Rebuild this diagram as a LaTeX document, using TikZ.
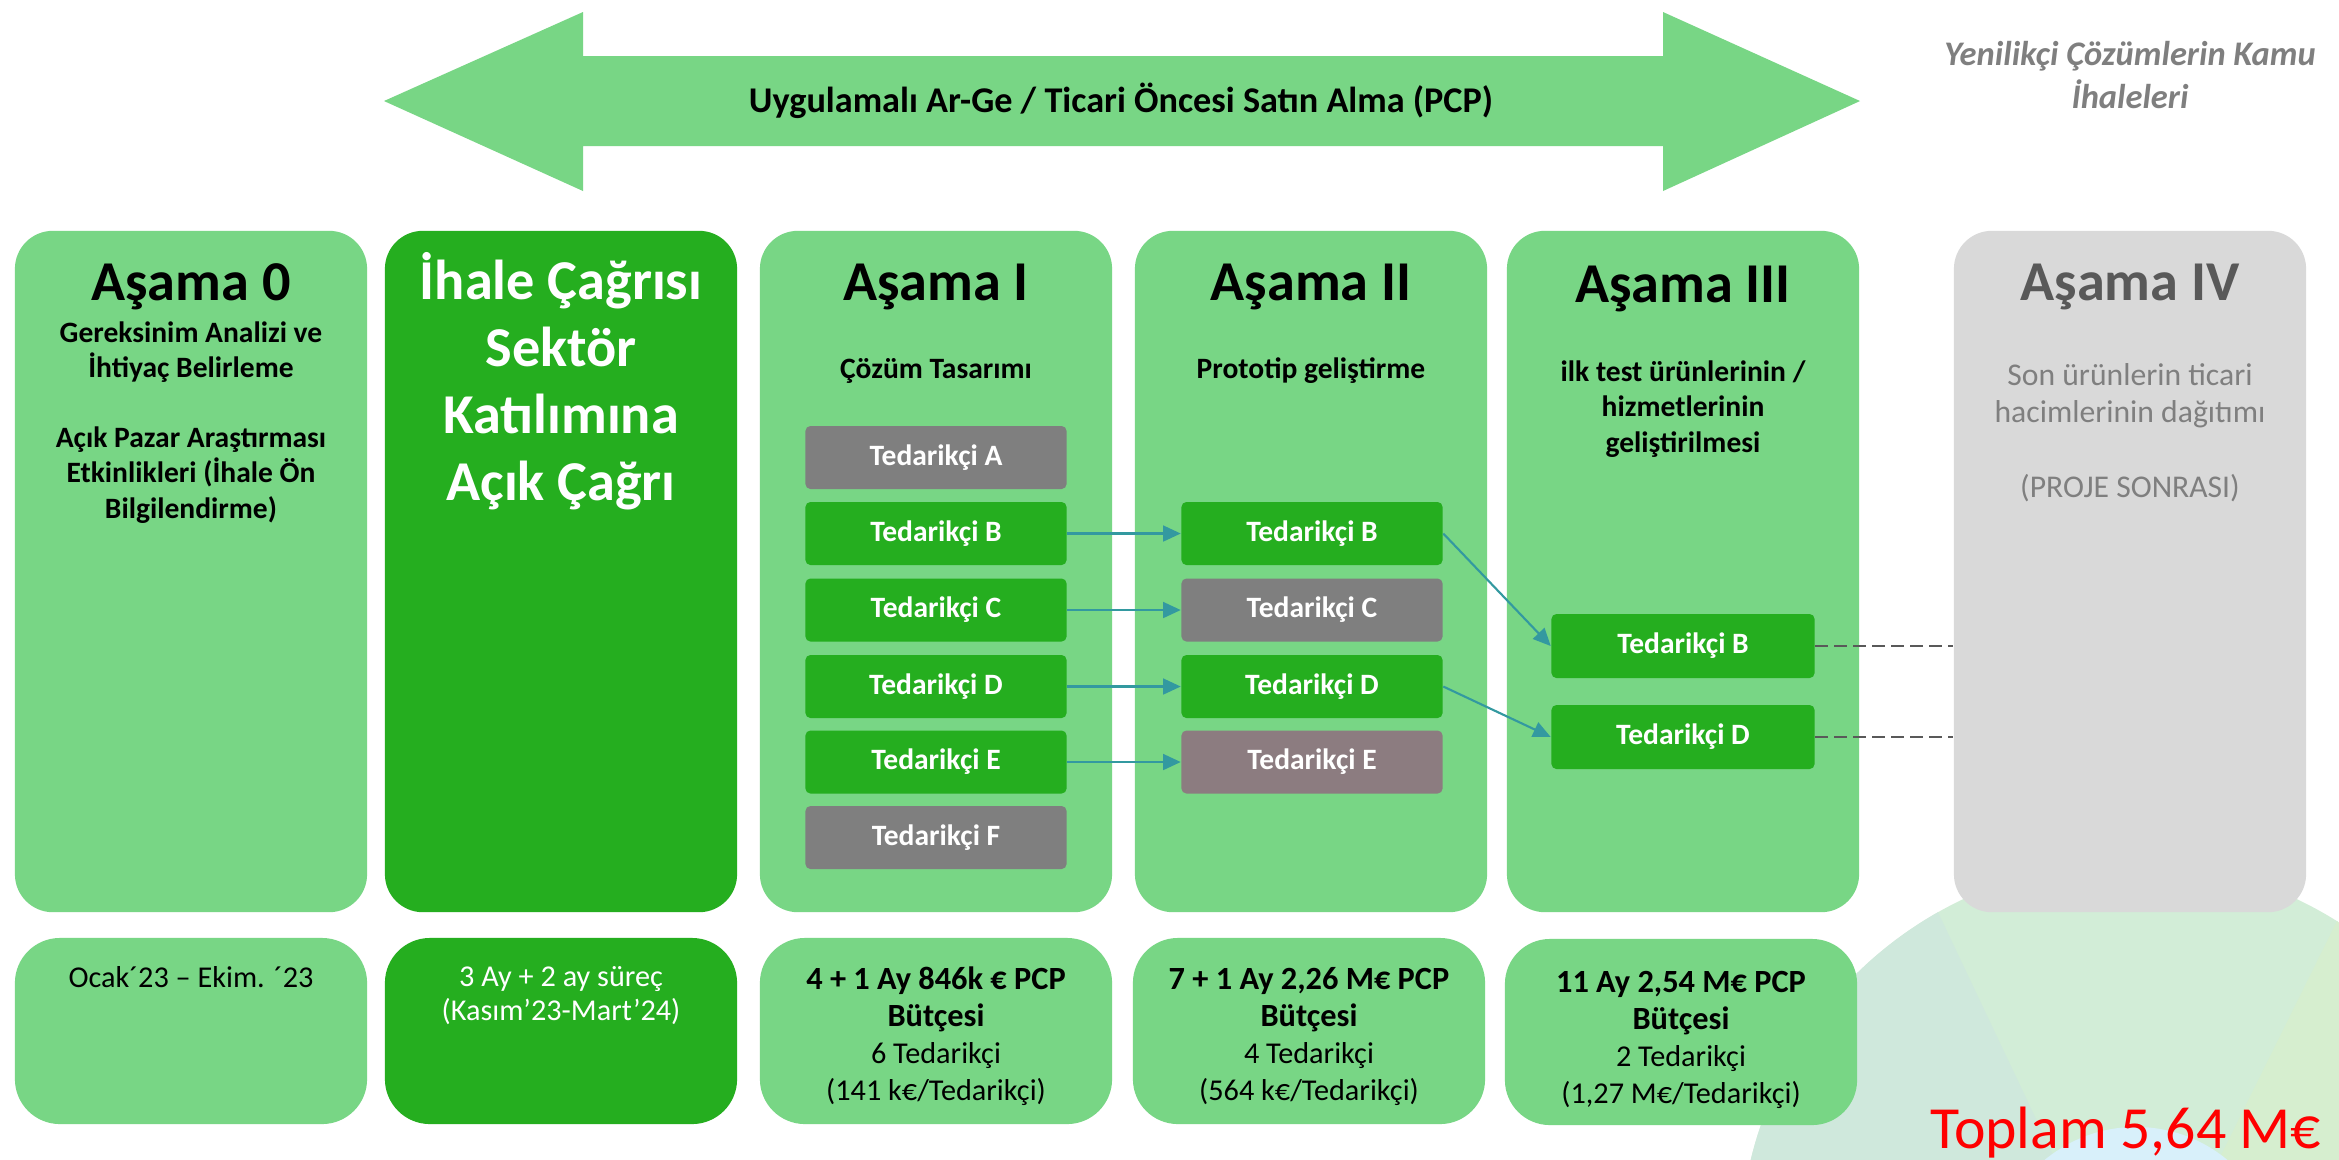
\documentclass[tikz,border=0pt]{standalone}
\usepackage{fontspec}
\setmainfont{Carlito}
\usetikzlibrary{arrows.meta}
\definecolor{lgreen}{HTML}{78D685}
\definecolor{dgreen}{HTML}{25AE1F}
\definecolor{boxgray}{HTML}{7F7F7F}
\definecolor{mauve}{HTML}{8C7C80}
\definecolor{colgray}{HTML}{D9D9D9}
\definecolor{arrteal}{HTML}{3399A0}
\definecolor{txtgray}{HTML}{595959}
\definecolor{subgray}{HTML}{7F7F7F}
\definecolor{wedgeL}{HTML}{CFE8DC}
\definecolor{wedgeM}{HTML}{D2EDD7}
\definecolor{wedgeR}{HTML}{D6EECF}
\definecolor{hubblue}{HTML}{D8F0FA}
\newcommand\fbody{\fontsize{8.4}{10}\selectfont}
\newcommand\fbot{\fontsize{8.6}{10.5}\selectfont}
\newcommand\fbotb{\fontsize{9.2}{10.5}\selectfont\bfseries}
\newcommand\ftitle{\fontsize{16}{19}\selectfont}
\tikzset{
 colbox/.style={fill=lgreen, rounded corners=0.38cm, minimum width=3.52cm, minimum height=6.81cm, inner sep=0pt},
 botbox/.style={fill=lgreen, rounded corners=0.45cm, minimum width=3.52cm, minimum height=1.86cm, inner sep=0pt},
 supp/.style={fill=dgreen, rounded corners=0.05cm, minimum width=2.61cm, minimum height=0.63cm, inner sep=0pt, text=white, font=\fbody\bfseries},
 suppoff/.style={supp, fill=boxgray},
 phtitle/.style={anchor=base, font=\ftitle\bfseries, align=center, inner sep=0pt},
 phsub/.style={anchor=base, font=\fbody\bfseries, align=center, inner sep=0pt},
 botx/.style={anchor=base, font=\fbot, align=center, inner sep=0pt},
 flow/.style={draw=arrteal, line width=0.6pt, -{Triangle[length=5pt,width=4.5pt]}},
 dashln/.style={draw=txtgray, line width=0.6pt, dash pattern=on 3.6pt off 1.8pt},
}
\begin{document}
% multi-line nodes are placed by the baseline of their LAST line
\begin{tikzpicture}[x=0.01cm,y=-0.01cm]
\useasboundingbox (0,0) rectangle (2339,1159);
\fill[white] (0,0) rectangle (2339,1159);
% background decoration
\begin{scope}
\clip (0,0) rectangle (2339,1159);
\clip (2130,1252) circle[radius=3.9cm];
\fill[wedgeM] (1600,700) rectangle (2600,1400);
\fill[wedgeL] (1835,695) -- (2165,1391) -- (1600,1391) -- (1600,695) -- cycle;
\fill[wedgeR] (2448,697) -- (2121,1357) -- (2600,1357) -- (2600,697) -- cycle;
\fill[hubblue] (2136,1270) circle[radius=1.43cm];
\end{scope}
% top arrow
\fill[lgreen] (384,101) -- (583,12) -- (583,56) -- (1663,56) -- (1663,12) -- (1860,101)
  -- (1663,191) -- (1663,146) -- (583,146) -- (583,191) -- cycle;
\node[anchor=base, font=\fontsize{10.3}{12}\selectfont\bfseries, inner sep=0pt] (pcp) at (1121,112)
  {Uygulamalı Ar-Ge / Ticari Öncesi Satın Alma (PCP)};
\node[anchor=base, font=\fontsize{9.8}{12.2}\selectfont\bfseries\itshape, text=subgray, align=center, inner sep=0pt] (ykt) at (2130,108)
  {Yenilikçi Çözümlerin Kamu\\İhaleleri};
% columns
\node[colbox] (c0) at (191,571.5) {};
\node[colbox, fill=dgreen] (c1) at (561,571.5) {};
\node[colbox] (c2) at (936,571.5) {};
\node[colbox] (c3) at (1311,571.5) {};
\node[colbox] (c4) at (1683,571.5) {};
\node[colbox, fill=colgray] (c5) at (2130,571.5) {};
% column texts
\node[phtitle] (t0) at (191,300) {Aşama 0};
\node[phsub] (s0) at (191,518) {Gereksinim Analizi ve\\İhtiyaç Belirleme\\[10pt]Açık Pazar Araştırması\\Etkinlikleri (İhale Ön\\Bilgilendirme)};
\node[phtitle, text=white] (t1) at (561,500) {İhale Çağrısı\\Sektör\\Katılımına\\Açık Çağrı};
\node[phtitle] (t2) at (936,300) {Aşama I};
\node[phsub] (s2) at (936,378) {Çözüm Tasarımı};
\node[phtitle] (t3) at (1311,300) {Aşama II};
\node[phsub] (s3) at (1311,378) {Prototip geliştirme};
\node[phtitle] (t4) at (1683,302) {Aşama III};
\node[phsub] (s4) at (1683,452) {ilk test ürünlerinin /\\hizmetlerinin\\geliştirilmesi};
\node[phtitle, text=txtgray] (t5) at (2130,300) {Aşama IV};
\node[anchor=base, font=\fontsize{9}{10.6}\selectfont, text=subgray, align=center, inner sep=0pt] (s5) at (2130,497)
  {Son ürünlerin ticari\\hacimlerinin dağıtımı\\[10.6pt](PROJE SONRASI)};
% suppliers stage I
\node[suppoff] (a1) at (936,457.5) {Tedarikçi A};
\node[supp] (b1) at (936,533.5) {Tedarikçi B};
\node[supp] (cc1) at (936,610) {Tedarikçi C};
\node[supp] (d1) at (936,686.5) {Tedarikçi D};
\node[supp] (e1) at (936,762) {Tedarikçi E};
\node[suppoff] (f1) at (936,837.5) {Tedarikçi F};
% suppliers stage II
\node[supp] (b2) at (1312,533.5) {Tedarikçi B};
\node[suppoff] (cc2) at (1312,610) {Tedarikçi C};
\node[supp] (d2) at (1312,686.5) {Tedarikçi D};
\node[suppoff, fill=mauve] (e2) at (1312,762) {Tedarikçi E};
% suppliers stage III
\node[supp, minimum width=2.63cm, minimum height=0.64cm] (b3) at (1683,646) {Tedarikçi B};
\node[supp, minimum width=2.63cm, minimum height=0.64cm] (d3) at (1683,737) {Tedarikçi D};
% connectors
\draw[flow] (b1.east) -- (b2.west);
\draw[flow] (cc1.east) -- (cc2.west);
\draw[flow] (d1.east) -- (d2.west);
\draw[flow] (e1.east) -- (e2.west);
\draw[flow] (b2.east) -- (b3.west);
\draw[flow] (d2.east) -- (d3.west);
\draw[dashln] (b3.east) -- (b3.east -| c5.west);
\draw[dashln] (d3.east) -- (d3.east -| c5.west);
% bottom boxes
\node[botbox] (m0) at (191,1031) {};
\node[botbox, fill=dgreen] (m1) at (561,1031) {};
\node[botbox] (m2) at (936,1031) {};
\node[botbox] (m3) at (1309,1031) {};
\node[botbox] (m4) at (1681,1032) {};
\node[botx] (x0) at (191,987) {Ocak´23 – Ekim. ´23};
\node[botx, text=white, font=\fontsize{8.6}{9.5}\selectfont] (x1) at (561,1020) {3 Ay + 2 ay süreç\\(Kasım’23-Mart’24)};
\node[botx] (x2) at (936,1100) {{\fbotb 4 + 1 Ay 846k € PCP}\\{\fbotb Bütçesi}\\6 Tedarikçi\\(141 k€/Tedarikçi)};
\node[botx] (x3) at (1309,1100) {{\fbotb 7 + 1 Ay 2,26 M€ PCP}\\{\fbotb Bütçesi}\\4 Tedarikçi\\(564 k€/Tedarikçi)};
\node[botx] (x4) at (1681,1103) {{\fbotb 11 Ay 2,54 M€ PCP}\\{\fbotb Bütçesi}\\2 Tedarikçi\\(1,27 M€/Tedarikçi)};
\node[anchor=base east, font=\fontsize{17}{20}\selectfont, text=red, inner sep=0pt] (tot) at (2322,1148) {Toplam 5,64 M€};
\end{tikzpicture}
\end{document}
